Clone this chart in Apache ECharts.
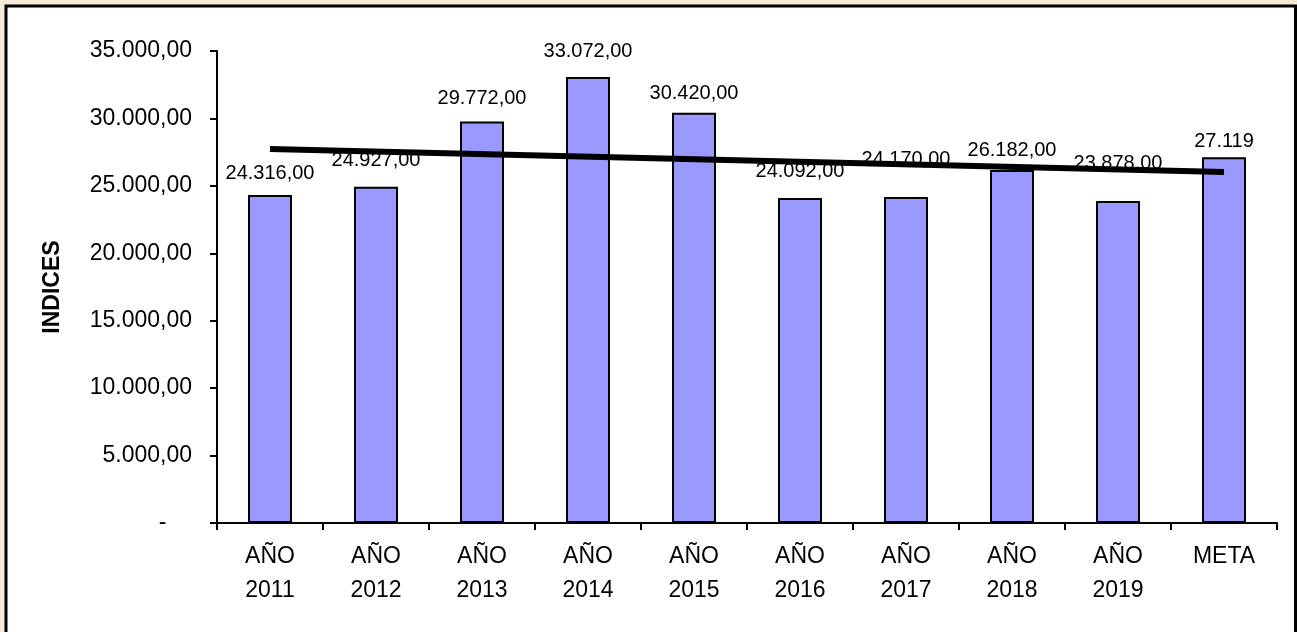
<!DOCTYPE html>
<html>
<head>
<meta charset="utf-8">
<script src="https://cdn.jsdelivr.net/npm/echarts@6/dist/echarts.min.js"></script>
<style>
  html, body { margin: 0; padding: 0; background: #F5EBD5; }
  #chart { width: 1297px; height: 632px; }
</style>
</head>
<body>
<div id="chart"></div>
<script>
// categories and values
var categories = ['AÑO\n2011', 'AÑO\n2012', 'AÑO\n2013', 'AÑO\n2014', 'AÑO\n2015',
                  'AÑO\n2016', 'AÑO\n2017', 'AÑO\n2018', 'AÑO\n2019', 'META']
var indices = [24316, 24927, 29772, 33072, 30420, 24092, 24170, 26182, 23878, 27119]
// trend line: only the two end points
var trend = [27730, null, null, null, null, null, null, null, null, 26030]
var yTicks = { min: 0, max: 35000, interval: 5000 }

// label distance above each bar (they sit at different heights in the original)
var labelGap = [12, 16, 13, 16, 9, 17, 28, 9, 28, 6]

function fmt(v, dec) {
  var s = Math.round(v).toString().replace(/\B(?=(\d{3})+(?!\d))/g, '.')
  return dec ? s + ',00' : s
}

var font = 'Liberation Sans, Arial, sans-serif'
var chart = echarts.init(document.getElementById('chart'))

chart.setOption({
  backgroundColor: '#F5EBD5',
  animation: false,
  textStyle: { fontFamily: font },
  graphic: [{
    type: 'rect',
    shape: { x: 6, y: 6, width: 1289.5, height: 700 },
    style: { fill: '#ffffff', stroke: '#000000', lineWidth: 3 },
    z: -10,
    silent: true
  }],
  grid: { left: 217, right: 20, top: 51, bottom: 109 },
  xAxis: {
    type: 'category',
    data: categories,
    axisLine: { lineStyle: { color: '#000', width: 2 } },
    axisTick: { show: true, length: 7, lineStyle: { color: '#000', width: 2 } },
    axisLabel: {
      color: '#000', fontSize: 23, lineHeight: 34, margin: 17,
      fontFamily: font, interval: 0
    }
  },
  yAxis: {
    type: 'value',
    min: yTicks.min,
    max: yTicks.max,
    interval: yTicks.interval,
    name: 'INDICES',
    nameLocation: 'middle',
    nameRotate: 90,
    nameGap: 153,
    nameTextStyle: {
      color: '#000', fontSize: 23, fontWeight: 'bold', fontFamily: font
    },
    axisLine: { show: true, lineStyle: { color: '#000', width: 2 } },
    axisTick: { show: true, length: 7, lineStyle: { color: '#000', width: 2 } },
    splitLine: { show: false },
    axisLabel: {
      color: '#000', fontSize: 23, margin: 25, fontFamily: font,
      formatter: function (v) {
        return v === 0 ? '-\u00a0\u00a0\u00a0\u00a0' : fmt(v, true)
      }
    }
  },
  series: [{
    name: 'INDICES',
    type: 'bar',
    z: 2,
    barWidth: 44,
    itemStyle: { color: '#9999FF', borderColor: '#000', borderWidth: 2 },
    data: indices.map(function (v, i) {
      return {
        value: v,
        label: {
          show: true,
          position: 'top',
          distance: labelGap[i],
          color: '#000',
          fontSize: 20,
          fontFamily: font,
          formatter: function () { return fmt(v, categories[i] !== 'META') }
        }
      }
    })
  }, {
    name: 'Tendencia',
    type: 'line',
    z: 5,
    data: trend,
    connectNulls: true,
    symbol: 'none',
    lineStyle: { color: '#000', width: 6 }
  }]
})
</script>
</body>
</html>
